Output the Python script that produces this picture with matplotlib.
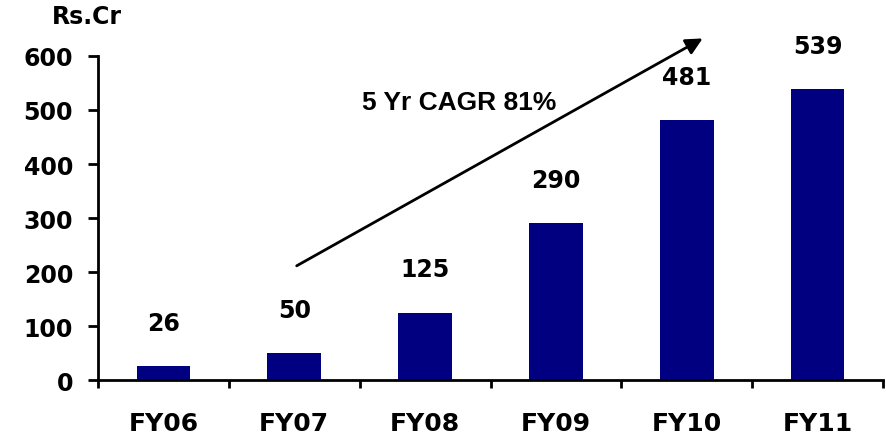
import matplotlib
matplotlib.use("Agg")
import matplotlib.pyplot as plt
import numpy as np

years = ["FY06", "FY07", "FY08", "FY09", "FY10", "FY11"]
revenue = [26, 50, 125, 290, 481, 539]
value_labels = ["26", "50", "125", "290", "481", "539"]

BAR_COLOR = "#000080"
plt.rcParams["font.family"] = ["DejaVu Sans"]
plt.rcParams["font.weight"] = "bold"

fig = plt.figure(figsize=(8.87, 4.35), dpi=100)
ax = fig.add_axes([0.1105, 0.124, 0.885, 0.745])

x = np.arange(len(years))
ax.bar(x, revenue, width=0.41, color=BAR_COLOR)

for xi, v, lab in zip(x, revenue, value_labels):
    ax.annotate(lab, (xi, v), xytext=(0, 31), textcoords="offset points",
                ha="center", va="center", fontsize=17, fontweight="bold")

ax.set_xlim(-0.5, len(years) - 0.5)
ax.set_ylim(0, 600)
ax.set_yticks(np.arange(0, 601, 100))
ax.set_xticks(x)
ax.set_xticklabels(years)
ax.set_xticks(np.arange(-0.5, len(years), 1), minor=True)
ax.tick_params(axis="x", which="major", length=0, pad=22, labelsize=18)
ax.tick_params(axis="x", which="minor", length=6, width=2, direction="out")
ax.tick_params(axis="y", length=7, width=2, direction="out", labelsize=17, pad=11)
for lab in ax.get_xticklabels() + ax.get_yticklabels():
    lab.set_fontweight("bold")

for side in ("top", "right"):
    ax.spines[side].set_visible(False)
for side in ("left", "bottom"):
    ax.spines[side].set_linewidth(2)

ax.text(-0.014, 1.123, "Rs.Cr", transform=ax.transAxes, ha="center", va="center",
        fontsize=17, fontweight="bold")

# growth arrow
ax.annotate("", xy=(4.14, 635), xytext=(1.0, 209), annotation_clip=False,
            arrowprops=dict(arrowstyle="-|>", color="black", lw=2,
                            mutation_scale=25))
ax.text(1.52, 515, "5 Yr CAGR 81%", ha="left", va="center",
        fontsize=19, fontweight="bold", family="Liberation Sans")

fig.savefig("out.png", dpi=100)
